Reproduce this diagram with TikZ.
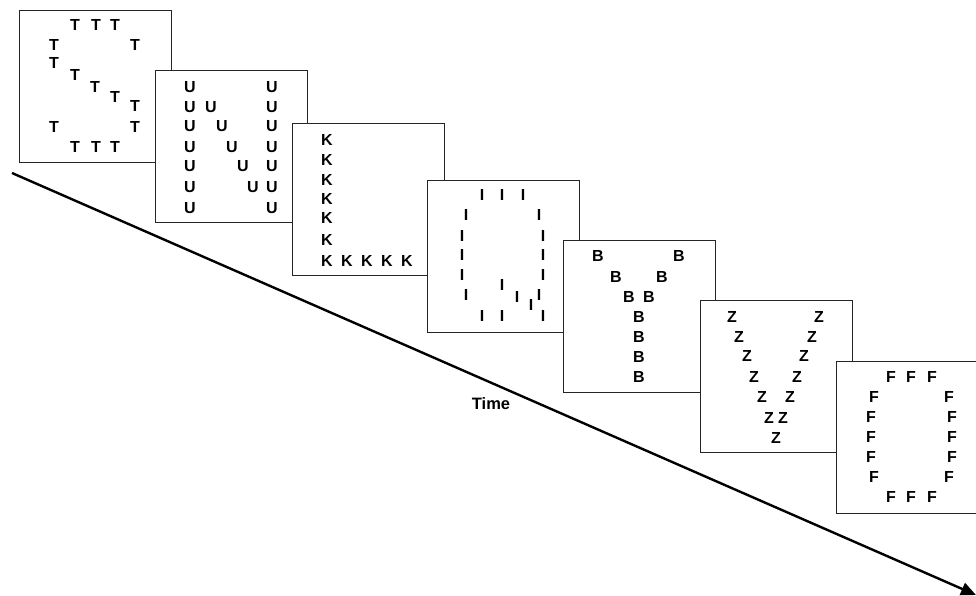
\documentclass[tikz,border=0pt]{standalone}
\usepackage{fontspec}
\setmainfont{Liberation Sans}
\usetikzlibrary{arrows.meta}
\begin{document}
\begin{tikzpicture}[x=1pt, y=-1pt,
    panel/.style = {draw=black!85, line width=1.1pt, fill=white, anchor=north west,
                    minimum width=152pt, minimum height=152pt, inner sep=0pt},
    glyph/.style = {font=\fontsize{16}{18}\selectfont\bfseries, inner sep=0pt}]
    \useasboundingbox (0,0) rectangle (976,596);
    \clip (0,0) rectangle (976,596);

    % time axis
    \coordinate (start) at (12,173);
    \coordinate (end) at (976,595);
    \draw[line width=2.4pt, -{Triangle[length=15pt, width=13pt]}] (start) -- (end);
    \node[font=\fontsize{16.5}{18}\selectfont\bfseries, inner sep=0pt] (time) at (491,404) {Time};

    % stimulus panels, later ones on top
    \foreach \name/\px/\py in {p1/19/10, p2/155/70, p3/292/123, p4/427/180,
                               p5/563/240, p6/700/300, p7/836/361}
        \node[panel] (\name) at (\px,\py) {};

    % letters inside each panel
    \foreach \x/\y [count=\i] in {56/15, 77/15, 96/15, 35/35, 116/35, 35/53, 56/65, 76/77,
                                  96/87, 116/96, 35/117, 116/117, 56/137, 77/137, 96/137}
        \node[glyph] (t\i) at ([shift={(\x,\y)}]p1.north west) {T};
    \foreach \x/\y [count=\i] in {35/17, 35/37, 35/56, 35/77, 35/96, 35/117, 35/138,
                                  117/17, 117/37, 117/56, 117/77, 117/96, 117/117, 117/138,
                                  56/37, 67/56, 77/77, 88/96, 98/117}
        \node[glyph] (u\i) at ([shift={(\x,\y)}]p2.north west) {U};
    \foreach \x/\y [count=\i] in {35/17, 35/37, 35/57, 35/76, 35/95, 35/117, 35/138,
                                  55/138, 75/138, 95/138, 115/138}
        \node[glyph] (k\i) at ([shift={(\x,\y)}]p3.north west) {K};
    \foreach \x/\y [count=\i] in {55/15, 75/15, 96/15, 39/35, 112/35, 35/56, 116/56,
                                  35/75, 116/75, 35/95, 116/95, 39/115, 112/115,
                                  75/105, 90/117, 104/125, 55/136, 75/136, 116/136}
        \node[glyph] (i\i) at ([shift={(\x,\y)}]p4.north west) {I};
    \foreach \x/\y [count=\i] in {35/16, 116/16, 53/37, 99/37, 66/57, 86/57,
                                  76/77, 76/97, 76/117, 76/137}
        \node[glyph] (b\i) at ([shift={(\x,\y)}]p5.north west) {B};
    \foreach \x/\y [count=\i] in {32/17, 119/17, 39/37, 112/37, 47/56, 104/56, 54/77,
                                  97/77, 62/97, 90/97, 69/118, 83/118, 76/138}
        \node[glyph] (z\i) at ([shift={(\x,\y)}]p6.north west) {Z};
    \foreach \x/\y [count=\i] in {55/16, 75/16, 96/16, 38/36, 113/36, 35/56, 116/56,
                                  35/76, 116/76, 35/96, 116/96, 38/116, 113/116,
                                  55/136, 75/136, 96/136}
        \node[glyph] (f\i) at ([shift={(\x,\y)}]p7.north west) {F};
\end{tikzpicture}
\end{document}
